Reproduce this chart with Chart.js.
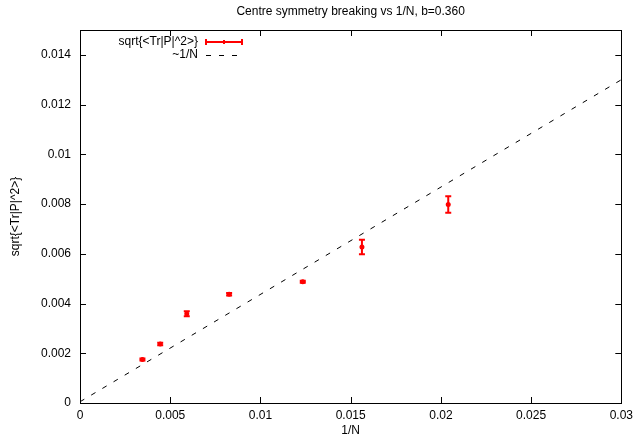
<!DOCTYPE html>
<html>
<head>
<meta charset="utf-8">
<script src="https://cdn.jsdelivr.net/npm/chart.js@4"></script>
<style>
html, body { margin: 0; padding: 0; background: #fff; }
#wrap { width: 638px; height: 438px; }
</style>
</head>
<body>
<div id="wrap"><canvas id="chart"></canvas></div>
<script>
// 1/N for N = 17^2 ... 7^2
const invN = [1/289, 1/225, 1/169, 1/121, 1/81, 1/64, 1/49];
const rootP = [0.00175, 0.00237, 0.00359, 0.00437, 0.00488, 0.00627, 0.00798];
const rootPErr = [0.00004, 0.00005, 0.00010, 0.00005, 0.00004, 0.00029, 0.00033];
const fitX = [0, 0.03];
const fitY = [0.00005, 0.0130];
const xTicks = [0, 0.005, 0.01, 0.015, 0.02, 0.025, 0.03];
const yTicks = [0, 0.002, 0.004, 0.006, 0.008, 0.01, 0.012, 0.014];

const FONT = "'Liberation Sans', Arial, sans-serif";
const fmt = v => String(Number(v.toFixed(4)));

const gnuplotFrame = {
    id: 'gnuplotFrame',
    afterDatasetsDraw(chart) {
        const ctx = chart.ctx;
        const a = chart.chartArea;
        const xs = chart.scales.x, ys = chart.scales.y;

        // error bars
        ctx.save();
        ctx.strokeStyle = '#ff0000';
        ctx.lineWidth = 2;
        invN.forEach((x, i) => {
            const px = xs.getPixelForValue(x);
            const top = ys.getPixelForValue(rootP[i] + rootPErr[i]);
            const bot = ys.getPixelForValue(rootP[i] - rootPErr[i]);
            ctx.beginPath();
            ctx.moveTo(px, top); ctx.lineTo(px, bot);
            ctx.moveTo(px - 3, top); ctx.lineTo(px + 3, top);
            ctx.moveTo(px - 3, bot); ctx.lineTo(px + 3, bot);
            ctx.stroke();
        });
        ctx.restore();

        // frame and inward ticks
        ctx.save();
        ctx.strokeStyle = '#000';
        ctx.lineWidth = 1;
        ctx.strokeRect(Math.round(a.left) + 0.5, Math.round(a.top) + 0.5,
            Math.round(a.right - a.left), Math.round(a.bottom - a.top));
        ctx.beginPath();
        xTicks.forEach(v => {
            const px = Math.round(xs.getPixelForValue(v)) + 0.5;
            ctx.moveTo(px, a.bottom); ctx.lineTo(px, a.bottom - 6);
            ctx.moveTo(px, a.top); ctx.lineTo(px, a.top + 6);
        });
        yTicks.forEach(v => {
            const py = Math.round(ys.getPixelForValue(v)) + 0.5;
            ctx.moveTo(a.left, py); ctx.lineTo(a.left + 6, py);
            ctx.moveTo(a.right, py); ctx.lineTo(a.right - 6, py);
        });
        ctx.stroke();

        // title and axis titles
        ctx.fillStyle = '#000';
        ctx.font = '12px ' + FONT;
        ctx.textAlign = 'center';
        ctx.textBaseline = 'middle';
        ctx.fillText('Centre symmetry breaking vs 1/N, b=0.360', (a.left + a.right) / 2, 12);
        ctx.fillText('1/N', (a.left + a.right) / 2, 431);
        ctx.save();
        ctx.translate(16, (a.top + a.bottom) / 2);
        ctx.rotate(-Math.PI / 2);
        ctx.fillText('sqrt{<Tr|P|^2>}', 0, 0);
        ctx.restore();

        // legend
        ctx.textAlign = 'right';
        ctx.fillText('sqrt{<Tr|P|^2>}', 198, 42);
        ctx.fillText('~1/N', 198, 55);
        ctx.strokeStyle = '#ff0000';
        ctx.lineWidth = 2;
        ctx.beginPath();
        ctx.moveTo(206, 42); ctx.lineTo(242, 42);
        ctx.moveTo(206, 39); ctx.lineTo(206, 45);
        ctx.moveTo(242, 39); ctx.lineTo(242, 45);
        ctx.moveTo(224, 40); ctx.lineTo(224, 44);
        ctx.stroke();
        ctx.strokeStyle = '#000';
        ctx.lineWidth = 1;
        ctx.setLineDash([5, 8]);
        ctx.beginPath();
        ctx.moveTo(206, 55.5); ctx.lineTo(242, 55.5);
        ctx.stroke();
        ctx.restore();
    }
};

new Chart(document.getElementById('chart'), {
    type: 'scatter',
    data: {
        datasets: [
            {
                label: 'sqrt{<Tr|P|^2>}',
                data: invN.map((x, i) => ({ x: x, y: rootP[i] })),
                backgroundColor: '#ff0000',
                borderColor: '#ff0000',
                pointRadius: 2.5,
                borderWidth: 0,
                pointStyle: 'circle'
            },
            {
                label: '~1/N',
                type: 'line',
                data: fitX.map((x, i) => ({ x: x, y: fitY[i] })),
                borderColor: '#000',
                borderWidth: 1,
                borderDash: [5, 8],
                pointRadius: 0,
                fill: false
            }
        ]
    },
    options: {
        responsive: true,
        maintainAspectRatio: false,
        animation: false,
        devicePixelRatio: 1,
        layout: { padding: { top: 30, right: 15, left: 0, bottom: 0 } },
        plugins: {
            legend: { display: false },
            title: { display: false },
            tooltip: { enabled: false }
        },
        scales: {
            x: {
                type: 'linear',
                min: 0,
                max: 0.03,
                afterBuildTicks: s => { s.ticks = xTicks.map(v => ({ value: v })); },
                afterFit: s => { s.height = 35; },
                grid: { display: false, drawTicks: false },
                border: { display: false },
                ticks: {
                    padding: 5,
                    maxRotation: 0,
                    color: '#000',
                    font: { family: FONT, size: 12 },
                    callback: v => fmt(v)
                }
            },
            y: {
                type: 'linear',
                min: 0,
                max: 0.015,
                afterBuildTicks: s => { s.ticks = yTicks.map(v => ({ value: v })); },
                afterFit: s => { s.width = 80; },
                grid: { display: false, drawTicks: false },
                border: { display: false },
                ticks: {
                    padding: 9,
                    color: '#000',
                    font: { family: FONT, size: 12 },
                    callback: v => fmt(v)
                }
            }
        }
    },
    plugins: [gnuplotFrame]
});
</script>
</body>
</html>
